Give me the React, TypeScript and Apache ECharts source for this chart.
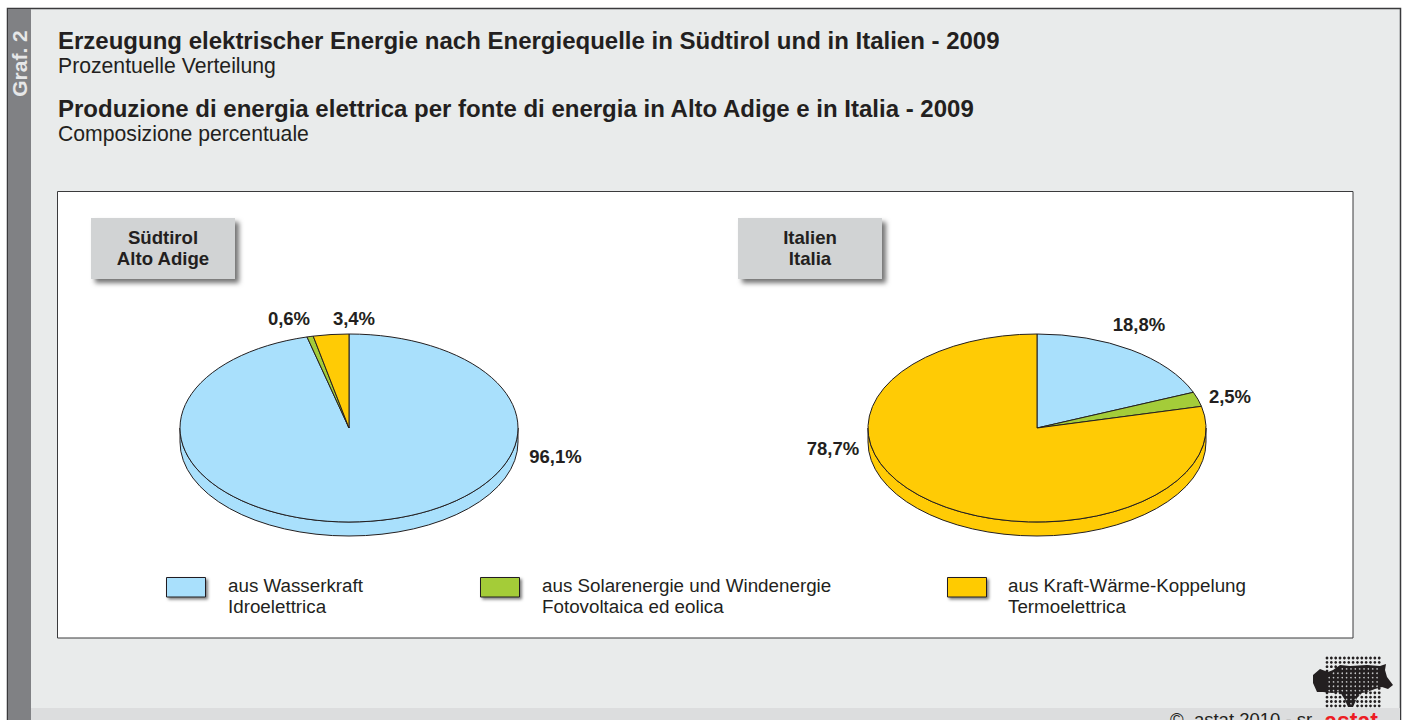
import React, { useEffect, useRef } from "react";
import * as echarts from "echarts";

const FONT = '"Liberation Sans", Arial, sans-serif';
const INK = "#231f20";

const titleDe = "Erzeugung elektrischer Energie nach Energiequelle in Südtirol und in Italien - 2009";
const subtitleDe = "Prozentuelle Verteilung";
const titleIt = "Produzione di energia elettrica per fonte di energia in Alto Adige e in Italia - 2009";
const subtitleIt = "Composizione percentuale";
const graphLabel = "Graf. 2";
const copyright = "©  astat 2010 - sr.";
const logoWord = "astat";

const panelNames = ["Südtirol\nAlto Adige", "Italien\nItalia"];
const sourceNames = [
  "aus Wasserkraft\nIdroelettrica",
  "aus Solarenergie und Windenergie\nFotovoltaica ed eolica",
  "aus Kraft-Wärme-Koppelung\nTermoelettrica",
];
const sourceColors = ["#a9e0fc", "#a4cc39", "#ffcb05"];

const suedtirolValues = [96.1, 0.6, 3.4];
const italienValues = [18.8, 2.5, 78.7];

// label anchor positions (layout)
const suedtirolLabelPos = [[555.5, 456], [289, 318], [354, 318]];
const italienLabelPos = [[1139, 324], [1230, 396], [833, 448]];

const RX = 169, RY = 94, DEPTH = 14, CY = 428;

const pt = (cx: number, a: number, dy = 0) => [
  cx + RX * Math.sin(a),
  CY - RY * Math.cos(a) + dy,
];

function makePie(name: string, cx: number, values: number[], labelPos: number[][]) {
  const total = values.reduce((a, b) => a + b, 0);
  const ranges: [number, number][] = [];
  let acc = 0;
  values.forEach((v) => {
    const a0 = (acc / total) * 2 * Math.PI;
    acc += v;
    ranges.push([a0, (acc / total) * 2 * Math.PI]);
  });
  return {
    type: "custom",
    name,
    coordinateSystem: "none",
    silent: true,
    data: values.map((v, i) => ({ value: [v, i] })),
    renderItem: (_: any, api: any) => {
      const i = api.value(1) as number;
      const v = api.value(0) as number;
      const [a0, a1] = ranges[i];
      const children: any[] = [];
      const lo = Math.max(a0, Math.PI / 2);
      const hi = Math.min(a1, (3 * Math.PI) / 2);
      const style = { fill: sourceColors[i], stroke: INK, lineWidth: 1 };
      if (hi > lo) {
        const p0 = pt(cx, lo), p1 = pt(cx, hi), q1 = pt(cx, hi, DEPTH), q0 = pt(cx, lo, DEPTH);
        children.push({
          type: "path",
          shape: {
            pathData: `M${p0[0]} ${p0[1]}A${RX} ${RY} 0 0 1 ${p1[0]} ${p1[1]}L${q1[0]} ${q1[1]}A${RX} ${RY} 0 0 0 ${q0[0]} ${q0[1]}Z`,
          },
          style,
        });
      }
      const s = pt(cx, a0), e = pt(cx, a1);
      const large = a1 - a0 > Math.PI ? 1 : 0;
      children.push({
        type: "path",
        shape: {
          pathData: `M${cx} ${CY}L${s[0]} ${s[1]}A${RX} ${RY} 0 ${large} 1 ${e[0]} ${e[1]}Z`,
        },
        style,
      });
      children.push({
        type: "text",
        style: {
          text: v.toFixed(1).replace(".", ",") + "%",
          x: labelPos[i][0],
          y: labelPos[i][1],
          align: "center",
          verticalAlign: "middle",
          font: `bold 18.5px ${FONT}`,
          fill: INK,
        },
      });
      return { type: "group", children };
    },
  };
}

// Logo outline of the province, in logo-local pixels
const blob = [
  [13, 25], [20, 19], [28, 22], [33, 20], [40, 15], [50, 16], [67, 15], [80, 16], [86, 14], [85, 20],
  [87, 27], [93, 35], [88, 39], [82, 37], [75, 39], [67, 42], [62, 43], [57, 48], [53, 57], [48, 57],
  [45, 50], [40, 42], [32, 43], [23, 42], [17, 42], [13, 33],
];
const inBlob = (x: number, y: number) => {
  let c = false;
  for (let i = 0, j = blob.length - 1; i < blob.length; j = i++) {
    const [xi, yi] = blob[i], [xj, yj] = blob[j];
    if (yi > y !== yj > y && x < ((xj - xi) * (y - yi)) / (yj - yi) + xi) c = !c;
  }
  return c;
};

function logoElements() {
  const ox = 1300, oy = 650;
  const pitch = 4.35;
  const els: any[] = [];
  els.push({
    type: "polygon",
    shape: { points: blob.map(([x, y]) => [ox + x, oy + y]) },
    style: { fill: INK },
  });
  for (let r = 0; r < 12; r++) {
    for (let c = 0; c < 13; c++) {
      const x = 27 + c * pitch, y = 8 + r * pitch;
      if (!inBlob(x, y)) {
        els.push({ type: "circle", shape: { cx: ox + x, cy: oy + y, r: 1.4 }, style: { fill: INK } });
      } else if (inBlob(x + pitch / 2, y + pitch / 2) && c < 12) {
        els.push({
          type: "circle",
          shape: { cx: ox + x + pitch / 2, cy: oy + y + pitch / 2, r: 0.8 },
          style: { fill: "#c9cacb" },
        });
      }
    }
  }
  return els;
}

const txt = (text: string, x: number, y: number, font: string, extra: any = {}) => ({
  type: "text",
  x,
  y,
  ...extra.el,
  style: { text, font: `${font} ${FONT}`, fill: INK, verticalAlign: "middle", ...extra.style },
});

const shadow = { shadowBlur: 5, shadowOffsetX: 4, shadowOffsetY: 4, shadowColor: "rgba(0,0,0,0.55)" };

function buildGraphics() {
  const panelBoxes = [91, 738];
  const legendX = [166, 480, 947];
  const legendTextX = [228, 542, 1008];
  const elements: any[] = [
    { type: "rect", shape: { x: 7.5, y: 8.5, width: 1393, height: 720 }, style: { fill: "#e9ebeb", stroke: "#3a3a3c", lineWidth: 1.5 } },
    { type: "rect", shape: { x: 8, y: 708, width: 1392, height: 12 }, style: { fill: "#dcddde" } },
    { type: "rect", shape: { x: 8, y: 9, width: 23, height: 711 }, style: { fill: "#808184" } },
    { type: "rect", shape: { x: 57.5, y: 191.5, width: 1295.5, height: 446.5 }, style: { fill: "#ffffff", stroke: "#3a3a3c", lineWidth: 1 } },
    txt(graphLabel, 19, 63.5, "bold 21px", {
      el: { rotation: Math.PI / 2 },
      style: { fill: "#e6e7e8", align: "center" },
    }),
    txt(titleDe, 58, 40, "bold 24px"),
    txt(subtitleDe, 58, 65, "21.2px"),
    txt(titleIt, 58, 108, "bold 24px"),
    txt(subtitleIt, 58, 133, "21.2px"),
    txt(copyright, 1170, 719, "18.5px"),
    txt(logoWord, 1351, 721, "bold 23px", { style: { fill: "#ed1c24", align: "center" } }),
    ...logoElements(),
  ];
  panelNames.forEach((n, i) => {
    elements.push({
      type: "rect",
      shape: { x: panelBoxes[i], y: 218, width: 144, height: 61 },
      style: { fill: "#d1d3d4", ...shadow },
    });
    elements.push(
      txt(n, panelBoxes[i] + 72, 248, "bold 18.6px", { style: { align: "center", lineHeight: 21 } })
    );
  });
  sourceNames.forEach((n, i) => {
    elements.push({
      type: "rect",
      shape: { x: legendX[i] + 0.5, y: 577.5, width: 39, height: 19.5 },
      style: { fill: sourceColors[i], stroke: INK, lineWidth: 1, shadowBlur: 3, shadowOffsetX: 2, shadowOffsetY: 2, shadowColor: "rgba(0,0,0,0.5)" },
    });
    elements.push(txt(n, legendTextX[i], 595.5, "18.8px", { style: { lineHeight: 21 } }));
  });
  return elements;
}

export default function App() {
  const ref = useRef<HTMLDivElement>(null);
  useEffect(() => {
    const chart = echarts.init(ref.current!, null, { renderer: "svg" });
    chart.setOption({
      animation: false,
      backgroundColor: "#ffffff",
      graphic: { elements: buildGraphics().map((e) => ({ ...e, z: 0 })) },
      series: [
        makePie("Südtirol", 349, suedtirolValues, suedtirolLabelPos),
        makePie("Italien", 1037, italienValues, italienLabelPos),
      ],
    });
    return () => chart.dispose();
  }, []);
  return <div ref={ref} style={{ position: "absolute", left: 0, top: 0, width: 1408, height: 720 }} />;
}
